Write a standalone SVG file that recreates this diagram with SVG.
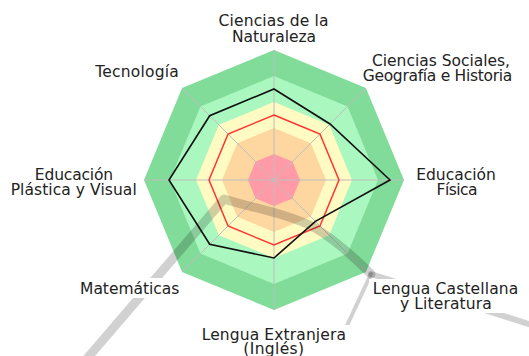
<svg xmlns="http://www.w3.org/2000/svg" width="529" height="356" viewBox="0 0 529 356">
<style>
.lbl{font-family:"DejaVu Sans","Verdana",sans-serif;font-size:15.5px;fill:#222;text-anchor:middle}
.bg{fill:#fff}
.axis{stroke:#bdbdbd;stroke-width:1;fill:none}
.band{stroke:#000;stroke-opacity:0.18;fill:none;stroke-linecap:round;stroke-linejoin:round}
</style>
<rect width="529" height="356" fill="#fff"/>
<g id="chart" transform="translate(274,180)">
  <polygon fill="#80dc98" points="0,-130 91.92,-91.92 130,0 91.92,91.92 0,130 -91.92,91.92 -130,0 -91.92,-91.92"/>
  <polygon fill="#aaf8bf" points="0,-104 73.54,-73.54 104,0 73.54,73.54 0,104 -73.54,73.54 -104,0 -73.54,-73.54"/>
  <polygon fill="#fffbc2" points="0,-78 55.15,-55.15 78,0 55.15,55.15 0,78 -55.15,55.15 -78,0 -55.15,-55.15"/>
  <polygon fill="#fed7a0" points="0,-52 36.77,-36.77 52,0 36.77,36.77 0,52 -36.77,36.77 -52,0 -36.77,-36.77"/>
  <polygon fill="#ff9aa6" points="0,-26 18.38,-18.38 26,0 18.38,18.38 0,26 -18.38,18.38 -26,0 -18.38,-18.38"/>
  <g class="axis">
    <line x1="0" y1="0" x2="0" y2="-130"/>
    <line x1="0" y1="0" x2="91.92" y2="-91.92"/>
    <line x1="0" y1="0" x2="130" y2="0"/>
    <line x1="0" y1="0" x2="91.92" y2="91.92"/>
    <line x1="0" y1="0" x2="0" y2="130"/>
    <line x1="0" y1="0" x2="-91.92" y2="91.92"/>
    <line x1="0" y1="0" x2="-130" y2="0"/>
    <line x1="0" y1="0" x2="-91.92" y2="-91.92"/>
  </g>
  <polygon fill="none" stroke="#ff3333" stroke-width="1.5" points="0,-65 45.96,-45.96 65,0 45.96,45.96 0,65 -45.96,45.96 -65,0 -45.96,-45.96"/>
  <polygon fill="none" stroke="#111" stroke-width="1.6" points="0,-91 56,-56 116,0 41.4,41.4 0,78 -64.3,64.3 -105,0 -64.3,-64.3"/>
</g>
<g id="connectors">
  <path class="band" stroke-width="9" d="M84,362 L224,199 C245,206 290,214 315,228 C335,240 355,258 371,274"/>
  <path class="band" stroke-width="6" d="M371,274 L535,326"/>
  <path class="band" stroke-width="4" d="M371,274 L330,362"/>
</g>
<g id="label-naturaleza">
  <rect class="bg" x="215" y="11" width="116" height="34"/>
  <text class="lbl" x="273.5" y="26" textLength="110">Ciencias de la</text>
  <text class="lbl" x="274" y="41.5" textLength="84">Naturaleza</text>
</g>
<g id="label-sociales">
  <rect class="bg" x="360" y="51" width="155" height="34"/>
  <text class="lbl" x="441" y="66" textLength="138">Ciencias Sociales,</text>
  <text class="lbl" x="437.5" y="81" textLength="149.6">Geografía e Historia</text>
</g>
<g id="label-tecnologia">
  <rect class="bg" x="93" y="62" width="90" height="19"/>
  <text class="lbl" x="137" y="77" textLength="83.5">Tecnología</text>
</g>
<g id="label-plastica">
  <rect class="bg" x="8" y="165" width="131" height="34"/>
  <text class="lbl" x="74" y="180" textLength="78.3">Educación</text>
  <text class="lbl" x="73.7" y="195" textLength="126">Plástica y Visual</text>
</g>
<g id="label-fisica">
  <rect class="bg" x="413" y="165" width="86" height="34"/>
  <text class="lbl" x="456" y="180" textLength="79.7">Educación</text>
  <text class="lbl" x="457" y="195" textLength="41">Física</text>
</g>
<g id="label-matematicas">
  <rect class="bg" x="76" y="278" width="107" height="20"/>
  <text class="lbl" x="129.7" y="293.5" textLength="99.3">Matemáticas</text>
</g>
<g id="label-castellana">
  <rect class="bg" x="369" y="279" width="152" height="34"/>
  <text class="lbl" x="445.5" y="294" textLength="145.7">Lengua Castellana</text>
  <text class="lbl" x="445.8" y="308.5" textLength="91.7">y Literatura</text>
</g>
<g id="label-extranjera">
  <rect class="bg" x="199" y="325" width="150" height="31"/>
  <text class="lbl" x="273.8" y="339.5" textLength="144.3">Lengua Extranjera</text>
  <text class="lbl" x="273.7" y="353.5" textLength="60.7">(Inglés)</text>
</g>
</svg>
